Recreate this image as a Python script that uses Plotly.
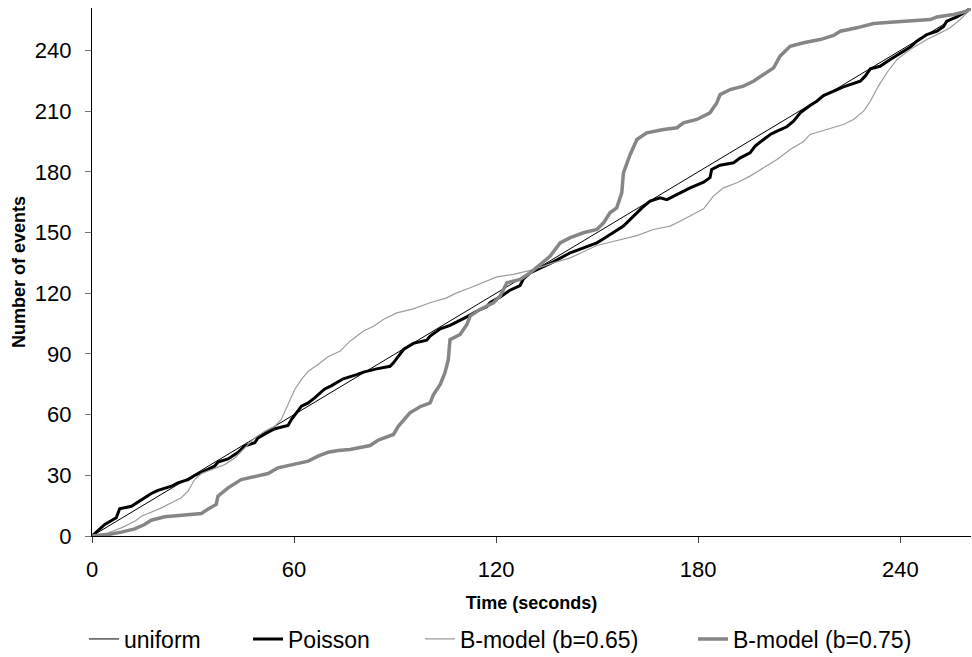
import plotly.graph_objects as go

# Cumulative event counts over time for four arrival models
uniform_t = [0, 261]
uniform_n = [0, 261]

poisson_t = [0, 3.8, 7.2, 8.2, 11.7, 14.7, 17.6, 19.6, 23.6, 25.5, 28.5, 30.5, 32.5, 36.4, 37.4,
             40.4, 43.4, 45.3, 48.3, 49.3, 52.3, 54.3, 58.2, 59.2, 62.2, 64.2, 66.1, 69.1, 71.0,
             74.6, 78.6, 80.6, 84.5, 88.5, 89.5, 92.5, 95.4, 99.4, 100.4, 103.4, 106.3, 108.3,
             111.3, 114.2, 117.2, 118.2, 121.2, 124.1, 127.1, 128.1, 130.1, 132.1, 137.0, 142.0,
             145.9, 149.9, 151.9, 154.8, 157.8, 160.8, 163.3, 165.7, 168.7, 170.7, 173.7, 177.6,
             181.6, 183.5, 184.0, 186.5, 190.5, 192.5, 195.4, 196.9, 199.4, 201.4, 203.4, 206.3,
             208.3, 210.3, 213.2, 215.2, 217.2, 220.2, 223.1, 228.1, 229.6, 231.1, 234.0, 237.0,
             240.0, 242.9, 244.9, 247.9, 250.9, 252.8, 253.8, 256.8, 258.8, 261.0]
poisson_n = [0, 5.7, 9.0, 13.4, 14.7, 18.0, 21.0, 22.6, 24.6, 26.3, 27.9, 29.9, 31.5, 34.5, 36.5,
             38.1, 41.4, 44.4, 46.1, 48.5, 51.3, 53.0, 54.6, 57.6, 64.2, 65.8, 68.3, 72.7, 74.2,
             77.7, 79.8, 81.0, 82.6, 83.9, 85.6, 92.2, 95.2, 96.8, 98.8, 102.4, 104.1, 105.7,
             108.3, 111.1, 113.3, 115.3, 118.2, 121.5, 123.8, 127.1, 130.1, 131.7, 135.5, 140.0,
             142.4, 144.9, 146.9, 149.9, 153.2, 158.1, 162.2, 165.5, 167.2, 166.3, 168.8, 172.1,
             174.9, 177.1, 181.2, 183.3, 184.5, 186.9, 189.4, 192.7, 196.0, 198.5, 200.1, 202.3,
             205.1, 209.2, 212.8, 214.9, 217.7, 219.9, 222.0, 224.8, 227.3, 230.9, 232.2, 235.5,
             238.8, 241.6, 244.6, 247.9, 249.5, 251.7, 254.5, 256.6, 258.6, 261.0]

b065_t = [0, 4.8, 8.7, 12.7, 14.7, 17.6, 20.6, 23.6, 26.5, 28.5, 30.5, 32.5, 36.4, 39.4, 42.4,
          45.3, 48.3, 51.3, 54.3, 56.2, 58.2, 60.2, 62.2, 64.2, 67.1, 70.1, 73.7, 76.6, 80.6,
          83.6, 86.5, 90.5, 95.4, 100.4, 105.3, 108.3, 112.3, 116.2, 120.2, 125.1, 129.1, 131.1,
          136.0, 142.0, 145.9, 149.9, 153.8, 157.8, 161.8, 166.7, 171.7, 174.6, 177.6, 181.6,
          184.5, 187.5, 191.5, 195.4, 199.4, 203.4, 207.3, 211.3, 213.2, 218.2, 223.1, 226.1,
          229.1, 231.1, 233.5, 236.0, 239.0, 242.9, 247.9, 251.9, 254.8, 257.8, 261.0]
b065_n = [0, 1.6, 4.0, 7.3, 9.8, 11.8, 13.9, 16.4, 18.9, 22.2, 27.9, 30.9, 33.2, 35.3, 38.6,
          43.6, 48.5, 51.8, 54.3, 57.6, 65.0, 72.4, 77.4, 81.5, 84.8, 88.6, 91.4, 96.3, 101.3,
          103.7, 107.0, 110.3, 112.3, 115.3, 117.7, 120.2, 122.7, 125.2, 128.1, 129.3, 130.9, 131.7,
          134.5, 137.5, 140.5, 143.6, 145.2, 146.9, 148.5, 151.5, 153.2, 155.6, 158.1, 161.7,
          168.0, 172.1, 174.6, 177.9, 182.0, 186.1, 191.1, 195.0, 198.5, 200.9, 203.4, 205.9,
          210.0, 214.9, 222.4, 229.0, 235.5, 240.5, 245.4, 248.7, 251.2, 255.3, 260.5]

b075_t = [0, 4.8, 8.7, 12.7, 15.6, 17.6, 21.6, 26.5, 32.5, 34.5, 36.9, 37.4, 40.4, 44.3, 48.3,
          52.3, 55.2, 60.2, 64.2, 67.1, 70.1, 73.1, 76.6, 82.6, 85.0, 89.5, 91.0, 94.4, 97.4,
          100.4, 101.4, 103.4, 104.8, 105.8, 106.3, 109.3, 111.3, 112.3, 115.2, 119.2, 121.2,
          123.2, 127.1, 130.1, 132.1, 136.0, 139.0, 142.0, 145.9, 149.9, 151.9, 153.8, 155.8,
          157.3, 157.8, 159.8, 161.8, 164.7, 169.7, 173.7, 175.6, 179.6, 183.5, 185.5, 186.5,
          189.5, 193.4, 196.4, 199.4, 202.4, 204.3, 207.3, 211.3, 216.2, 220.2, 222.2, 227.1,
          232.1, 237.0, 242.9, 248.9, 250.9, 255.8, 259.8, 261.0]
b075_n = [0, 0.7, 1.9, 3.5, 5.7, 7.8, 9.5, 10.1, 11.1, 13.4, 15.6, 19.7, 23.8, 27.9, 29.6,
          30.9, 33.7, 35.3, 37.0, 39.5, 41.4, 42.3, 42.8, 44.7, 47.4, 50.2, 54.3, 60.9, 63.9,
          65.8, 69.9, 74.9, 80.7, 87.2, 97.1, 99.6, 104.5, 108.7, 112.0, 115.3, 118.6,
          125.2, 126.8, 130.1, 133.0, 138.3, 144.9, 147.5, 149.9, 151.5, 154.8, 159.8, 162.2,
          169.6, 179.5, 188.6, 196.0, 199.3, 200.9, 201.8, 204.2, 205.9, 209.2, 214.1, 218.2,
          220.7, 222.4, 224.8, 228.1, 231.4, 237.2, 242.1, 243.8, 245.4, 247.4, 249.5, 251.2,
          253.3, 254.0, 254.5, 255.3, 256.6, 257.8, 259.4, 261.0]

x_ticks = [0, 60, 120, 180, 240]
y_ticks = [0, 30, 60, 90, 120, 150, 180, 210, 240]

FONT = "Liberation Sans, Arial, sans-serif"
TICK_SIZE = 22
LEGEND_SIZE = 23
TITLE_SIZE = 18
HEIGHT = 657

series = [
    ("uniform", uniform_t, uniform_n, "#000000", 1.0, "legend"),
    ("Poisson", poisson_t, poisson_n, "#000000", 3.0, "legend2"),
    ("B-model (b=0.65)", b065_t, b065_n, "#9c9c9c", 1.2, "legend3"),
    ("B-model (b=0.75)", b075_t, b075_n, "#868686", 3.5, "legend4"),
]

fig = go.Figure()
for name, t, n, color, width, leg in series:
    fig.add_trace(go.Scatter(
        x=t, y=n, mode="lines", name=name,
        line=dict(color=color, width=width),
        legend=leg,
    ))

# one single-entry legend per series so each entry sits at its own x position
legend_x = [-0.0091, 0.1775, 0.3731, 0.6837]
legend_common = dict(
    orientation="h", yref="container", yanchor="middle", y=1 - 639 / HEIGHT,
    xanchor="left",
    font=dict(family=FONT, size=LEGEND_SIZE, color="#000000"),
    bgcolor="rgba(0,0,0,0)", borderwidth=0,
)

fig.update_layout(
    width=972, height=HEIGHT,
    margin=dict(l=92, r=1, t=8, b=121, autoexpand=False),
    paper_bgcolor="white", plot_bgcolor="white",
    font=dict(family=FONT, size=TICK_SIZE, color="#000000"),
    showlegend=True,
    legend=dict(x=legend_x[0], **legend_common),
    legend2=dict(x=legend_x[1], **legend_common),
    legend3=dict(x=legend_x[2], **legend_common),
    legend4=dict(x=legend_x[3], **legend_common),
    xaxis=dict(
        range=[0, 261], tickvals=x_ticks, ticktext=[str(v) for v in x_ticks],
        showgrid=False, zeroline=False, showline=True, linecolor="#000000", linewidth=1.3,
        ticks="outside", ticklen=6, tickcolor="#444444", tickwidth=1,
        ticklabelstandoff=7, automargin=False,
        tickfont=dict(family=FONT, size=TICK_SIZE, color="#000000"),
        title=dict(text="<b>Time (seconds)</b>", standoff=15,
                   font=dict(family=FONT, size=TITLE_SIZE, color="#000000")),
    ),
    yaxis=dict(
        range=[0, 261], tickvals=y_ticks, ticktext=[str(v) for v in y_ticks],
        showgrid=False, zeroline=False, showline=True, linecolor="#000000", linewidth=1.3,
        ticks="outside", ticklen=6, tickcolor="#777777", tickwidth=1,
        ticklabelstandoff=9, automargin=False,
        tickfont=dict(family=FONT, size=TICK_SIZE, color="#000000"),
        title=dict(text="<b>Number of events</b>", standoff=4,
                   font=dict(family=FONT, size=TITLE_SIZE, color="#000000")),
    ),
)

fig.write_html("out.html")
